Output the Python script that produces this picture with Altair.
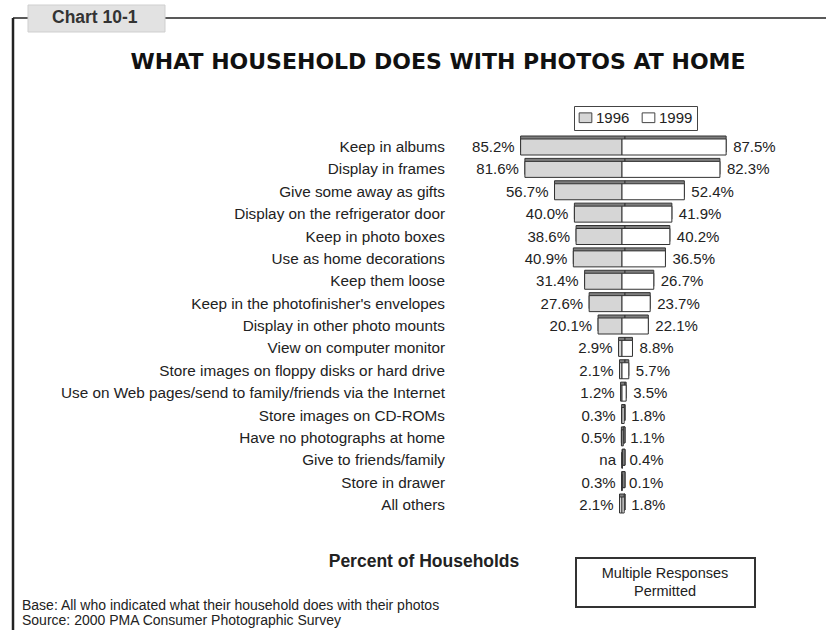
import altair as alt
import pandas as pd

categories = [
    "Keep in albums",
    "Display in frames",
    "Give some away as gifts",
    "Display on the refrigerator door",
    "Keep in photo boxes",
    "Use as home decorations",
    "Keep them loose",
    "Keep in the photofinisher's envelopes",
    "Display in other photo mounts",
    "View on computer monitor",
    "Store images on floppy disks or hard drive",
    "Use on Web pages/send to family/friends via the Internet",
    "Store images on CD-ROMs",
    "Have no photographs at home",
    "Give to friends/family",
    "Store in drawer",
    "All others",
]
pct_1996 = [85.2, 81.6, 56.7, 40.0, 38.6, 40.9, 31.4, 27.6, 20.1, 2.9, 2.1, 1.2, 0.3, 0.5, None, 0.3, 2.1]
pct_1999 = [87.5, 82.3, 52.4, 41.9, 40.2, 36.5, 26.7, 23.7, 22.1, 8.8, 5.7, 3.5, 1.8, 1.1, 0.4, 0.1, 1.8]
years = ["1996", "1999"]

FONT = "Liberation Sans"

rows = []
for c, a, b in zip(categories, pct_1996, pct_1999):
    rows.append(dict(cat=c, year="1996", start=0.0, end=-(a or 0.0),
                     label=("na" if a is None else f"{a:.1f}%")))
    rows.append(dict(cat=c, year="1999", start=0.0, end=b, label=f"{b:.1f}%"))
df = pd.DataFrame(rows)
cat_df = pd.DataFrame({"cat": categories})

xs = alt.Scale(domain=[-100, 100], range=[503, 741], nice=False, zero=False)
ys = alt.Scale(type="point", domain=categories, range=[147, 505], padding=0)

X = alt.X("start:Q", scale=xs, axis=None)
X2 = alt.X2("end:Q")
Y = alt.Y("cat:N", scale=ys, axis=None)

base = alt.Chart(df)

shadow = base.mark_bar(size=16, xOffset=3, yOffset=-3, fill="#7e7e7e",
                       stroke="#333333", strokeWidth=1).encode(x=X, x2=X2, y=Y)

main = base.mark_bar(size=16, stroke="#333333", strokeWidth=1).encode(
    x=X, x2=X2, y=Y,
    color=alt.Color("year:N",
                    scale=alt.Scale(domain=years, range=["#d6d6d6", "#ffffff"]),
                    legend=alt.Legend(title=None, orient="none", legendX=574, legendY=106,
                                      direction="horizontal",
                                      symbolType="M-1.3,-1L1.3,-1L1.3,1L-1.3,1Z",
                                      symbolSize=95, symbolStrokeColor="#444444",
                                      symbolStrokeWidth=1, labelFontSize=15, labelFont=FONT,
                                      labelColor="#222222", strokeColor="#444444",
                                      fillColor="#ffffff", padding=4, columnPadding=10,
                                      labelOffset=3)),
)

left_lbl = base.transform_filter(alt.datum.year == "1996").mark_text(
    align="right", baseline="middle", dx=-6, fontSize=15, font=FONT, color="#222222"
).encode(x=alt.X("end:Q", scale=xs, axis=None), y=Y, text="label:N")

right_lbl = base.transform_filter(alt.datum.year == "1999").mark_text(
    align="left", baseline="middle", dx=7, fontSize=15, font=FONT, color="#222222"
).encode(x=alt.X("end:Q", scale=xs, axis=None), y=Y, text="label:N")

cat_lbl = alt.Chart(cat_df).mark_text(
    align="right", baseline="middle", fontSize=15.3, font=FONT, color="#222222"
).encode(x=alt.value(445), y=Y, text="cat:N")

one = pd.DataFrame({"k": [0]})

frame_left = alt.Chart(one).mark_rule(color="#222222", strokeWidth=2.5).encode(
    x=alt.value(13), y=alt.value(18), y2=alt.value(630))
frame_top = alt.Chart(one).mark_rule(color="#222222", strokeWidth=1.5).encode(
    x=alt.value(13), x2=alt.value(826), y=alt.value(18))
tab = alt.Chart(one).mark_rect(fill="#e2e2e2", stroke="#cfcfcf", strokeWidth=1).encode(
    x=alt.value(28), x2=alt.value(165), y=alt.value(5), y2=alt.value(32))
tab_txt = alt.Chart(one).mark_text(text="Chart 10-1", fontSize=17.5, fontWeight="bold", font=FONT,
                                   align="left", baseline="middle", color="#333333").encode(
    x=alt.value(52), y=alt.value(18))

title = alt.Chart(one).mark_text(text="WHAT HOUSEHOLD DOES WITH PHOTOS AT HOME", fontSize=22,
                                 fontWeight="bold", font="DejaVu Sans", align="center",
                                 baseline="middle", color="#111111").encode(
    x=alt.value(438), y=alt.value(62))

pct_txt = alt.Chart(one).mark_text(text="Percent of Households", fontSize=17.5, fontWeight="bold",
                                   font=FONT, align="center", baseline="middle",
                                   color="#222222").encode(x=alt.value(424), y=alt.value(562))

mr_box = alt.Chart(one).mark_rect(fill="#ffffff", stroke="#333333", strokeWidth=2).encode(
    x=alt.value(576), x2=alt.value(755), y=alt.value(558), y2=alt.value(607))
mr_txt = alt.Chart(one).mark_text(text=["Multiple Responses", "Permitted"], fontSize=14.5,
                                  font=FONT, align="center", baseline="middle", lineHeight=18,
                                  color="#222222").encode(x=alt.value(665), y=alt.value(574))

foot1 = alt.Chart(one).mark_text(text="Base: All who indicated what their household does with their photos",
                                 fontSize=14, font=FONT, align="left", baseline="middle",
                                 color="#222222").encode(x=alt.value(22), y=alt.value(606))
foot2 = alt.Chart(one).mark_text(text="Source: 2000 PMA Consumer Photographic Survey",
                                 fontSize=14, font=FONT, align="left", baseline="middle",
                                 color="#222222").encode(x=alt.value(22), y=alt.value(621))

chart = alt.layer(
    frame_left, frame_top, tab, tab_txt, title,
    shadow, main, left_lbl, right_lbl, cat_lbl,
    pct_txt, mr_box, mr_txt, foot1, foot2,
).properties(
    width=826, height=630, padding=0, autosize="none", background="#ffffff"
).configure_view(stroke=None)

chart.save("out.html", embed_options={"renderer": "svg", "actions": False})
